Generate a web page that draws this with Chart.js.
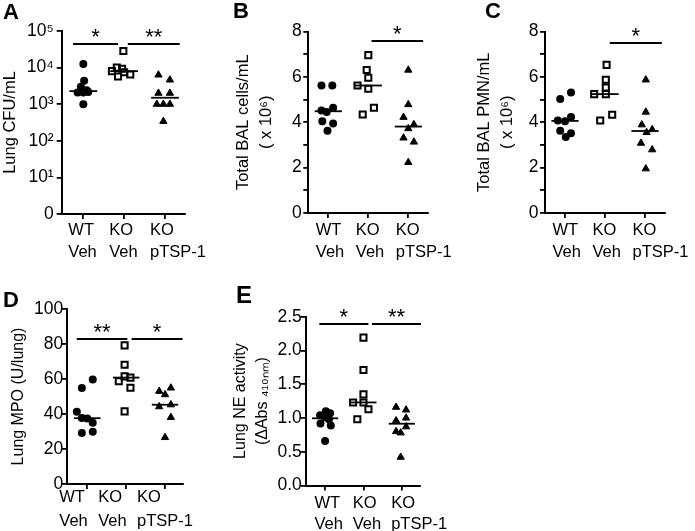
<!DOCTYPE html>
<html><head><meta charset="utf-8">
<script src="https://cdn.jsdelivr.net/npm/chart.js@4.4.1/dist/chart.umd.min.js"></script>
<style>
html,body{margin:0;padding:0;background:#fff;}
#wrap{position:relative;width:695px;height:531px;overflow:hidden;background:#fff;}
canvas{position:absolute;}
</style></head><body>
<div id="wrap">
<canvas id="cA" width="230" height="270" style="left:0;top:0"></canvas>
<canvas id="cB" width="230" height="270" style="left:230px;top:0"></canvas>
<canvas id="cC" width="235" height="270" style="left:460px;top:0"></canvas>
<canvas id="cD" width="230" height="261" style="left:0;top:270px"></canvas>
<canvas id="cE" width="240" height="261" style="left:230px;top:270px"></canvas>
</div>
<script>
// ---------- categories ----------
const groupLabels = [['WT','Veh'],['KO','Veh'],['KO','pTSP-1']];

// ---------- Panel A: Lung CFU/mL (log) ----------
const cfuWT   = [12600, 4400, 3000, 2400, 2100, 2100, 2150, 1000];
const cfuKO   = [28500, 10000, 9300, 8000, 7500, 6500, 5700];
const cfuTSP  = [6300, 4600, 2000, 2000, 1000, 1000, 1000, 340];
const cfuTicks = [1, 10, 100, 1000, 10000, 100000];
const cfuTickLabels = ['0','10¹','10²','10³','10⁴','10⁵'];

// ---------- Panel B: Total BAL cells/mL (x10^6) ----------
const balWT  = [5.62, 5.62, 4.52, 4.45, 4.64, 4.04, 3.94, 3.63];
const balKO  = [6.96, 6.30, 5.96, 5.62, 5.48, 4.64, 4.34];
const balTSP = [6.30, 4.78, 4.22, 3.90, 3.72, 3.31, 3.13, 2.23];

// ---------- Panel C: Total BAL PMN/mL (x10^6) ----------
const pmnWT  = [5.03, 5.31, 4.08, 4.04, 4.23, 3.63, 3.52, 3.35];
const pmnKO  = [6.53, 5.87, 5.53, 5.24, 5.24, 4.08, 4.33];
const pmnTSP = [5.87, 4.45, 3.89, 3.68, 3.55, 3.08, 2.79, 1.95];
const cellTicks = [0,1,2,3,4,5,6,7,8];
const cellTickLabels = ['0','','2','','4','','6','','8'];

// ---------- Panel D: Lung MPO (U/lung) ----------
const mpoWT  = [41.3, 54.9, 59.7, 37.7, 37.5, 35.0, 29.1, 29.8];
const mpoKO  = [79.2, 68.1, 58.7, 61.5, 60.8, 55.0, 41.5];
const mpoTSP = [53.0, 51.1, 54.9, 44.2, 45.3, 38.1, 26.6];
const mpoTicks = [0, 20, 40, 60, 80, 100];
const mpoTickLabels = ['0','20','40','60','80','100'];

// ---------- Panel E: Lung NE activity ----------
const neWT  = [1.10, 1.07, 1.04, 1.01, 0.98, 0.92, 0.89, 0.66];
const neKO  = [2.19, 1.71, 1.35, 1.23, 1.23, 1.13, 0.98];
const neTSP = [1.16, 1.12, 1.00, 0.96, 0.87, 0.80, 0.78, 0.42];
const neTicks = [0, 0.5, 1.0, 1.5, 2.0, 2.5];
const neTickLabels = ['0.0','0.5','1.0','1.5','2.0','2.5'];

// horizontal scatter (jitter) of each dot, in category units
const cfuWTj  = [0, 0.02, -0.06, 0.08, -0.14, 0, 0.12, 0];
const cfuKOj  = [-0.02, -0.18, -0.05, -0.3, 0, 0.15, -0.15];
const cfuTSPj = [-0.16, 0.12, -0.16, 0.12, -0.2, -0.04, 0.12, -0.04];
const balWTj  = [-0.17, 0.1, -0.17, -0.04, 0.12, -0.15, 0.12, -0.02];
const balKOj  = [0, -0.04, 0, -0.27, 0, 0.14, -0.14];
const balTSPj = [0, 0, -0.12, 0.14, 0, -0.12, 0.14, 0];
const pmnWTj  = [-0.12, 0.15, -0.18, 0, 0.15, -0.12, 0.15, 0.02];
const pmnKOj  = [0.04, 0.02, 0.02, -0.27, 0.02, -0.12, 0.18];
const pmnTSPj = [0.02, 0.02, -0.08, 0.18, 0.04, -0.1, 0.18, 0.02];
const mpoWTj  = [-0.27, -0.14, 0.14, -0.14, 0, 0.14, -0.14, 0.14];
const mpoKOj  = [-0.04, -0.04, -0.19, -0.04, 0.11, 0.11, -0.04];
const mpoTSPj = [-0.15, 0, 0.15, -0.15, 0.15, 0.15, 0];
const neWTj   = [0.02, 0.13, -0.13, 0, 0.1, -0.12, 0.15, 0];
const neKOj   = [0, 0, 0, -0.27, 0, 0.13, -0.16];
const neTSPj  = [-0.15, 0.11, 0.11, -0.15, 0.11, -0.15, -0.03, -0.03];

const FONT = "'Liberation Sans', Arial, Helvetica, sans-serif";
Chart.defaults.font.family = FONT;
Chart.defaults.color = '#000';

function median(a){
  const s = [...a].sort((p,q)=>p-q); const n = s.length;
  return n % 2 ? s[(n-1)/2] : (s[n/2-1] + s[n/2]) / 2;
}

const annot = {
  id: 'annot',
  afterDraw(chart, args, o) {
    const ctx = chart.ctx, xs = chart.scales.x, ys = chart.scales.y;
    ctx.save();
    ctx.fillStyle = '#000';
    ctx.font = 'bold ' + o.letterSize + 'px ' + FONT;
    ctx.textAlign = 'left'; ctx.textBaseline = 'alphabetic';
    ctx.fillText(o.letter, o.lx, o.ly);
    o.sig.forEach(s => {
      const y = Math.round(ys.getPixelForValue(s.y));
      const x0 = xs.getPixelForValue(s.from), x1 = xs.getPixelForValue(s.to);
      ctx.beginPath(); ctx.moveTo(x0, y); ctx.lineTo(x1, y);
      ctx.lineWidth = 1.8; ctx.strokeStyle = '#000'; ctx.stroke();
      ctx.font = '22px ' + FONT; ctx.textAlign = 'center';
      const m = ctx.measureText(s.label);
      const cy = y - 11.5;
      ctx.fillText(s.label, (x0 + x1) / 2, cy + (m.actualBoundingBoxAscent - m.actualBoundingBoxDescent) / 2);
    });
    ctx.restore();
  }
};

const marker = [
  {pointStyle:'circle',   r:4,   bg:'#000',        bw:0},
  {pointStyle:'rect',     r:4.3, bg:'rgba(0,0,0,0)', bw:2},
  {pointStyle:'triangle', r:4.2, bg:'#000',        bw:1}
];

function panel(id, c) {
  const datasets = [];
  c.groups.forEach((g, gi) => {
    const cat = gi + 1, mk = marker[gi];
    datasets.push({
      type:'scatter',
      data: g.v.map((v, i) => ({x: cat + g.j[i], y: v})),
      pointStyle: mk.pointStyle, pointRadius: mk.r, pointHoverRadius: mk.r,
      backgroundColor: mk.bg, borderColor:'#000', borderWidth: mk.bw, clip:false
    });
    const m = median(g.v);
    datasets.push({
      type:'line', data:[{x:cat-0.34, y:m}, {x:cat+0.34, y:m}],
      borderColor:'#000', borderWidth:1.8, pointRadius:0, clip:false
    });
  });
  new Chart(document.getElementById(id), {
    type:'scatter',
    data:{datasets},
    plugins:[annot],
    options:{
      responsive:false, animation:false, events:[],
      layout:{padding:{left:0, top:c.padT, right:c.padR, bottom:0}},
      plugins:{legend:{display:false}, tooltip:{enabled:false},
        annot:{letter:c.letter, letterSize:c.letterSize||22, lx:c.lx, ly:c.ly, sig:c.sig}},
      scales:{
        x:{
          type:'linear', min:c.xmin, max:c.xmax,
          afterBuildTicks: s => { s.ticks = [1,2,3].map(v => ({value:v})); },
          afterFit: s => { s.height = c.xH; s.paddingLeft = 0; s.paddingRight = 0; },
          ticks:{
            callback: v => groupLabels[v-1],
            font:{size:16.5, lineHeight:c.xLH}, color:'#000',
            padding:c.xPad, maxRotation:0, autoSkip:false,
            align:'start', labelOffset:c.xOff
          },
          grid:{drawOnChartArea:false, drawTicks:true, tickLength:5, color:'#000', lineWidth:1.8},
          border:{display:true, color:'#000', width:2}
        },
        y:{
          type: c.log ? 'logarithmic' : 'linear', min:c.ymin, max:c.ymax,
          afterBuildTicks: s => { s.ticks = c.yTicks.map(v => ({value:v})); },
          afterFit: s => { s.width = c.yW; s.paddingTop = 0; s.paddingBottom = 0; },
          ticks:{
            callback: (v, i) => c.yLabels[i],
            font:{size:17.5}, color:'#000', padding:c.yPad, autoSkip:false
          },
          grid:{drawOnChartArea:false, drawTicks:true, tickLength:5, color:'#000', lineWidth:1.8},
          border:{display:true, color:'#000', width:2},
          title:{display:true, text:c.title, color:'#000',
            font:{size:c.titleSize, lineHeight:c.titleLH}, padding:{top:c.titlePad, bottom:0}}
        }
      }
    }
  });
}

panel('cA', {
  groups:[{v:cfuWT, j:cfuWTj}, {v:cfuKO, j:cfuKOj}, {v:cfuTSP, j:cfuTSPj}],
  log:true, ymin:1, ymax:100000, yTicks:cfuTicks, yLabels:cfuTickLabels,
  xmin:0.47, xmax:3.49, yW:61.7, padR:45, padT:31, xH:56,
  title:'Lung CFU/mL', titleSize:16.5, titleLH:1.2, titlePad:1,
  yPad:3, xPad:0, xLH:1.36, xOff:-15,
  letter:'A', lx:3, ly:19,
  sig:[{from:0.75, to:1.85, y:43400, label:'*'}, {from:2.09, to:3.36, y:43400, label:'**'}]
});

panel('cB', {
  groups:[{v:balWT, j:balWTj}, {v:balKO, j:balKOj}, {v:balTSP, j:balTSPj}],
  ymin:0, ymax:8, yTicks:cellTicks, yLabels:cellTickLabels,
  xmin:0.5, xmax:3.5, yW:78.3, padR:31.7, padT:31.5, xH:57,
  title:['Total BAL cells/mL','( x 10⁶)'], titleSize:16.5, titleLH:1.45, titlePad:1,
  yPad:1.5, xPad:1, xLH:1.36, xOff:-12.5,
  letter:'B', lx:3, ly:18,
  sig:[{from:2.08, to:3.37, y:7.56, label:'*'}]
});

panel('cC', {
  groups:[{v:pmnWT, j:pmnWTj}, {v:pmnKO, j:pmnKOj}, {v:pmnTSP, j:pmnTSPj}],
  ymin:0, ymax:8, yTicks:cellTicks, yLabels:cellTickLabels,
  xmin:0.5, xmax:3.5, yW:85, padR:30, padT:31.5, xH:57,
  title:['Total BAL PMN/mL','( x 10⁶)'], titleSize:16.5, titleLH:1.45, titlePad:12,
  yPad:1.5, xPad:1, xLH:1.36, xOff:-12.5,
  letter:'C', lx:25, ly:18,
  sig:[{from:2.12, to:3.42, y:7.5, label:'*'}]
});

panel('cD', {
  groups:[{v:mpoWT, j:mpoWTj}, {v:mpoKO, j:mpoKOj}, {v:mpoTSP, j:mpoTSPj}],
  ymin:0, ymax:100, yTicks:mpoTicks, yLabels:mpoTickLabels,
  xmin:0.47, xmax:3.47, yW:66.7, padR:46.7, padT:39, xH:47,
  title:'Lung MPO (U/lung)', titleSize:16, titleLH:1.2, titlePad:8.8,
  yPad:-1.5, xPad:-3.5, xLH:1.44, xOff:-28,
  letter:'D', lx:3, ly:37,
  sig:[{from:0.73, to:2.03, y:83, label:'**'}, {from:2.14, to:3.45, y:83, label:'*'}]
});

panel('cE', {
  groups:[{v:neWT, j:neWTj}, {v:neKO, j:neKOj}, {v:neTSP, j:neTSPj}],
  ymin:0, ymax:2.5, yTicks:neTicks, yLabels:neTickLabels,
  xmin:0.49, xmax:3.46, yW:75.5, padR:50.5, padT:46.7, xH:45.5,
  title:['Lung NE activity','(ΔAbs ₄₁₀ₙₘ)'], titleSize:16, titleLH:1.375, titlePad:0,
  yPad:-1.3, xPad:2, xLH:1.31, xOff:-10.7,
  letter:'E', letterSize:24, lx:6, ly:33,
  sig:[{from:0.85, to:2.13, y:2.39, label:'*'}, {from:2.22, to:3.5, y:2.39, label:'**'}]
});
</script>
</body></html>
